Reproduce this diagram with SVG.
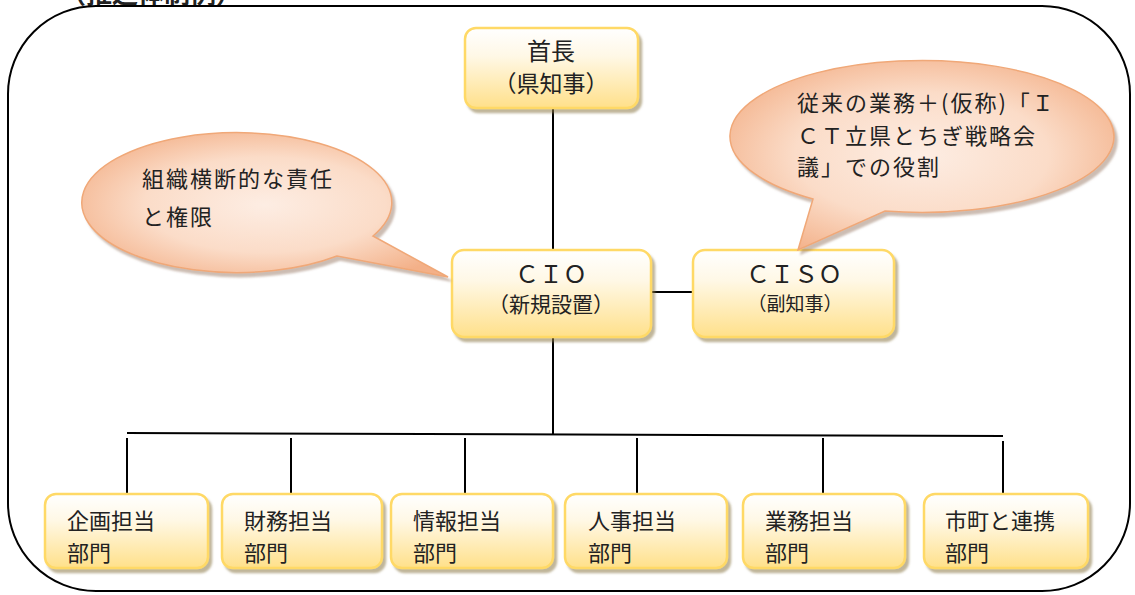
<svg xmlns="http://www.w3.org/2000/svg" width="1135" height="595" viewBox="0 0 1135 595">
<defs>
<linearGradient id="gBox" x1="0" y1="0" x2="0" y2="1">
<stop offset="0" stop-color="#FFFFFF"/>
<stop offset="0.35" stop-color="#FFF8E6"/>
<stop offset="1" stop-color="#FFE08A"/>
</linearGradient>
<radialGradient id="gCall" cx="0.5" cy="0.5" r="0.6">
<stop offset="0" stop-color="#FDEDE3"/>
<stop offset="0.55" stop-color="#FBDCC8"/>
<stop offset="1" stop-color="#F3B088"/>
</radialGradient>
<filter id="sh" x="-10%" y="-10%" width="125%" height="130%">
<feDropShadow dx="3" dy="4" stdDeviation="1" flood-color="#8C7A4A" flood-opacity="0.55"/>
</filter>
<filter id="shc" x="-10%" y="-10%" width="125%" height="130%">
<feDropShadow dx="3" dy="4" stdDeviation="1.2" flood-color="#9A7A66" flood-opacity="0.5"/>
</filter>
</defs>
<style>
.box{fill:url(#gBox);stroke:#FFD966;stroke-width:2.5;filter:url(#sh)}
.call{fill:url(#gCall);stroke:#F0A878;stroke-width:1.5;filter:url(#shc)}
.t{font-family:"Noto Sans CJK JP","Noto Sans CJK SC",sans-serif;fill:#222;font-size:22px}
.c{text-anchor:middle}
.ls{letter-spacing:2px}
.ln{stroke:#000;stroke-width:2;fill:none}
</style>
<rect width="1135" height="595" fill="#FFFFFF"/>
<text class="t" x="60" y="3" style="font-size:26px;font-weight:bold">（推進体制例）</text>
<rect x="8" y="6" width="1122" height="585" rx="88" ry="88" fill="none" stroke="#000" stroke-width="2"/>

<g id="connectors">
<line class="ln" x1="553" y1="108" x2="553" y2="250"/>
<line class="ln" x1="651" y1="292" x2="693" y2="292"/>
<line class="ln" x1="553" y1="337" x2="553" y2="434"/>
<line class="ln" x1="127" y1="433" x2="1003" y2="436"/>
<line class="ln" x1="127" y1="438" x2="127" y2="493"/>
<line class="ln" x1="291" y1="438" x2="291" y2="493"/>
<line class="ln" x1="465" y1="438" x2="465" y2="500"/>
<line class="ln" x1="637" y1="438" x2="637" y2="494"/>
<line class="ln" x1="823" y1="438" x2="823" y2="494"/>
<line class="ln" x1="1003" y1="441" x2="1003" y2="493"/>
</g>

<g id="head">
<rect class="box" x="465" y="28" width="173" height="80" rx="11"/>
<text class="t c" x="551" y="60" style="font-size:24px">首長</text>
<text class="t c" x="551" y="92" style="font-size:23px">（県知事）</text>
</g>

<g id="cio">
<rect class="box" x="452" y="250" width="199" height="87" rx="12"/>
<text class="t c" x="551" y="283" style="font-size:24px">ＣＩＯ</text>
<text class="t c" x="551" y="312" style="font-size:21px">（新規設置）</text>
</g>

<g id="ciso">
<rect class="box" x="693" y="250" width="201" height="87" rx="12"/>
<text class="t c" x="794" y="283" style="font-size:24px">ＣＩＳＯ</text>
<text class="t c" x="795" y="311" style="font-size:19px">（副知事）</text>
</g>

<g id="callout-left">
<path class="call" d="M 337 256 A 155 70 0 1 1 373 236 L 448 277 Z"/>
<text class="t ls" x="142" y="187">組織横断的な責任</text>
<text class="t ls" x="142" y="225">と権限</text>
</g>

<g id="callout-right">
<path class="call" d="M 885 211 A 192 76 0 1 0 813 199 L 798 250 Z"/>
<text class="t ls" x="797" y="111">従来の業務＋(仮称)「Ｉ</text>
<text class="t ls" x="797" y="144">ＣＴ立県とちぎ戦略会</text>
<text class="t ls" x="797" y="175">議」での役割</text>
</g>

<g id="dept1">
<rect class="box" x="45" y="494" width="163" height="74" rx="11"/>
<text class="t" x="67" y="529">企画担当</text>
<text class="t" x="67" y="561">部門</text>
</g>
<g id="dept2">
<rect class="box" x="222" y="494" width="160" height="74" rx="11"/>
<text class="t" x="244" y="529">財務担当</text>
<text class="t" x="244" y="561">部門</text>
</g>
<g id="dept3">
<rect class="box" x="391" y="494" width="162" height="74" rx="11"/>
<text class="t" x="413" y="529">情報担当</text>
<text class="t" x="413" y="561">部門</text>
</g>
<g id="dept4">
<rect class="box" x="565" y="494" width="162" height="74" rx="11"/>
<text class="t" x="588" y="529">人事担当</text>
<text class="t" x="588" y="561">部門</text>
</g>
<g id="dept5">
<rect class="box" x="743" y="494" width="162" height="74" rx="11"/>
<text class="t" x="765" y="529">業務担当</text>
<text class="t" x="765" y="561">部門</text>
</g>
<g id="dept6">
<rect class="box" x="924" y="494" width="164" height="74" rx="11"/>
<text class="t" x="945" y="529">市町と連携</text>
<text class="t" x="945" y="561">部門</text>
</g>
</svg>
